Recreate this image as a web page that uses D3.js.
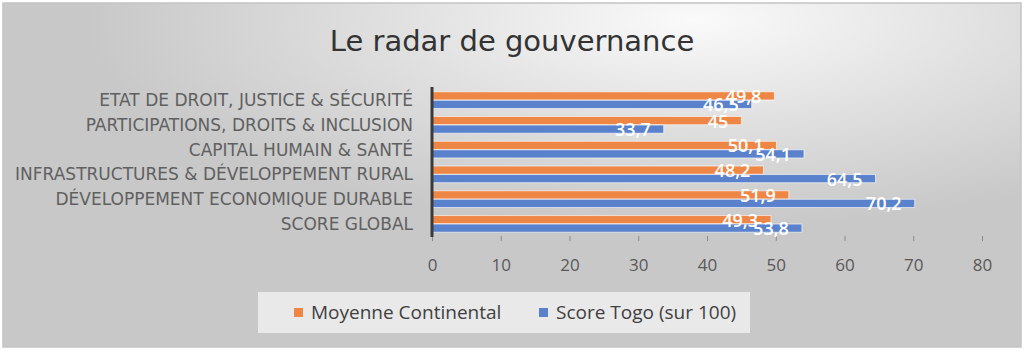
<!DOCTYPE html>
<html lang="fr">
<head>
  <meta charset="UTF-8">
  <title>Le radar de gouvernance</title>
  <script src="https://cdn.jsdelivr.net/npm/d3@7"></script>
  <style>
    body { margin: 0; background: #fff; }
  </style>
</head>
<body>
  <svg width="1024" height="350"></svg>
<script>
  const categories = [
    "ETAT DE DROIT, JUSTICE & SÉCURITÉ",
    "PARTICIPATIONS, DROITS & INCLUSION",
    "CAPITAL HUMAIN & SANTÉ",
    "INFRASTRUCTURES & DÉVELOPPEMENT RURAL",
    "DÉVELOPPEMENT ECONOMIQUE DURABLE",
    "SCORE GLOBAL"
  ];
  const moyenne = [49.8, 45, 50.1, 48.2, 51.9, 49.3];
  const togo = [46.5, 33.7, 54.1, 64.5, 70.2, 53.8];
  const seriesNames = ["Moyenne Continental", "Score Togo (sur 100)"];
  const colors = ["#EE8646", "#5A81CC"];
  const xTicks = [0, 10, 20, 30, 40, 50, 60, 70, 80];

  const svg = d3.select("svg");
  const margin = { left: 432, top: 88, right: 42, bottom: 114 };
  const innerWidth = 982 - margin.left;
  const innerHeight = 236 - margin.top;

  // fond dégradé
  const defs = svg.append("defs");
  const grad = defs.append("radialGradient")
    .attr("id", "bg")
    .attr("cx", 0.68).attr("cy", 0.05)
    .attr("r", 0.6);
  grad.append("stop").attr("offset", "0%").attr("stop-color", "#fafafa");
  grad.append("stop").attr("offset", "50%").attr("stop-color", "#e0e0e0");
  grad.append("stop").attr("offset", "100%").attr("stop-color", "#c8c8c8");

  const lineGrad = defs.append("linearGradient")
    .attr("id", "grid").attr("x1", 0).attr("y1", 0).attr("x2", 0).attr("y2", 1);
  lineGrad.append("stop").attr("offset", "0%").attr("stop-color", "#e0e0e0");
  lineGrad.append("stop").attr("offset", "100%").attr("stop-color", "#8a8a8a");

  svg.append("rect")
    .attr("x", 3).attr("y", 3)
    .attr("width", 1018).attr("height", 344)
    .attr("fill", "url(#bg)")
    .attr("stroke", "#c4c4c4")
    .attr("stroke-width", 1.5);

  svg.append("text")
    .attr("x", 512).attr("y", 51)
    .attr("text-anchor", "middle")
    .attr("font-family", "'DejaVu Sans', sans-serif")
    .attr("font-size", "29px")
    .attr("fill", "#333")
    .text("Le radar de gouvernance");

  const g = svg.append("g")
    .attr("transform", "translate(" + margin.left + "," + margin.top + ")");

  const xScale = d3.scaleLinear().domain([0, 80]).range([0, innerWidth]);
  const yScale = d3.scaleBand().domain(categories).range([0, innerHeight]).paddingInner(0.3).paddingOuter(0.14);
  const sub = d3.scaleBand().domain([0, 1]).range([0, yScale.bandwidth()]).padding(0.04);

  // grille verticale
  g.append("g")
    .selectAll("line")
    .data(xTicks.slice(1))
    .join("line")
    .attr("x1", d => xScale(d)).attr("x2", d => xScale(d))
    .attr("y1", 0).attr("y2", innerHeight)
    .attr("stroke", "url(#grid)")
    .attr("stroke-width", 1.3);

  // axe x
  const xAxis = g.append("g")
    .attr("transform", "translate(0," + innerHeight + ")")
    .call(d3.axisBottom(xScale).tickValues(xTicks).tickSize(5).tickPadding(18));
  xAxis.select(".domain").remove();
  xAxis.selectAll(".tick line").attr("stroke", "#8a8a8a");
  xAxis.selectAll(".tick text")
    .attr("font-family", "'Open Sans', sans-serif")
    .attr("font-size", "17px")
    .attr("fill", "#595959");

  // étiquettes des catégories
  g.append("g")
    .selectAll("text")
    .data(categories)
    .join("text")
    .attr("x", -19)
    .attr("y", d => yScale(d) + yScale.bandwidth() / 2 + 6)
    .attr("text-anchor", "end")
    .attr("font-family", "'DejaVu Sans', sans-serif")
    .attr("font-size", "17px")
    .attr("fill", "#606060")
    .text(d => d);

  const rows = categories.map((c, i) => ({ c, vals: [moyenne[i], togo[i]] }));
  const bars = rows.flatMap(r => r.vals.map((v, s) => ({ c: r.c, v, s })));

  g.append("g")
    .selectAll("rect")
    .data(bars)
    .join("rect")
    .attr("x", 0)
    .attr("y", d => yScale(d.c) + sub(d.s))
    .attr("width", d => xScale(d.v))
    .attr("height", sub.bandwidth())
    .attr("fill", d => colors[d.s])
    .attr("stroke", "rgba(255,255,255,0.6)")
    .attr("stroke-width", 1);

  g.append("g")
    .selectAll("text")
    .data(bars)
    .join("text")
    .attr("x", d => xScale(d.v) - 13)
    .attr("y", d => yScale(d.c) + sub(d.s) + sub.bandwidth() / 2 + 7)
    .attr("text-anchor", "end")
    .attr("font-family", "'Open Sans', sans-serif")
    .attr("font-weight", 600)
    .attr("font-size", "18px")
    .attr("fill", "#fff")
    .text(d => String(d.v).replace(".", ","));

  // axe vertical
  g.append("line")
    .attr("x1", 0).attr("x2", 0)
    .attr("y1", -1).attr("y2", innerHeight + 1)
    .attr("stroke", "#3a3a3a")
    .attr("stroke-width", 3);

  // légende
  const legend = svg.append("g");
  legend.append("rect")
    .attr("x", 258).attr("y", 292)
    .attr("width", 492).attr("height", 41)
    .attr("fill", "#efefef")
    .attr("opacity", 0.85);
  const legendX = [294, 539];
  seriesNames.forEach((name, i) => {
    legend.append("rect")
      .attr("x", legendX[i]).attr("y", 308)
      .attr("width", 9).attr("height", 9)
      .attr("fill", colors[i]);
    legend.append("text")
      .attr("x", legendX[i] + 17).attr("y", 319)
      .attr("font-family", "'Open Sans', sans-serif")
      .attr("font-size", "19px")
      .attr("fill", "#404040")
      .text(name);
  });
</script>
</body>
</html>
